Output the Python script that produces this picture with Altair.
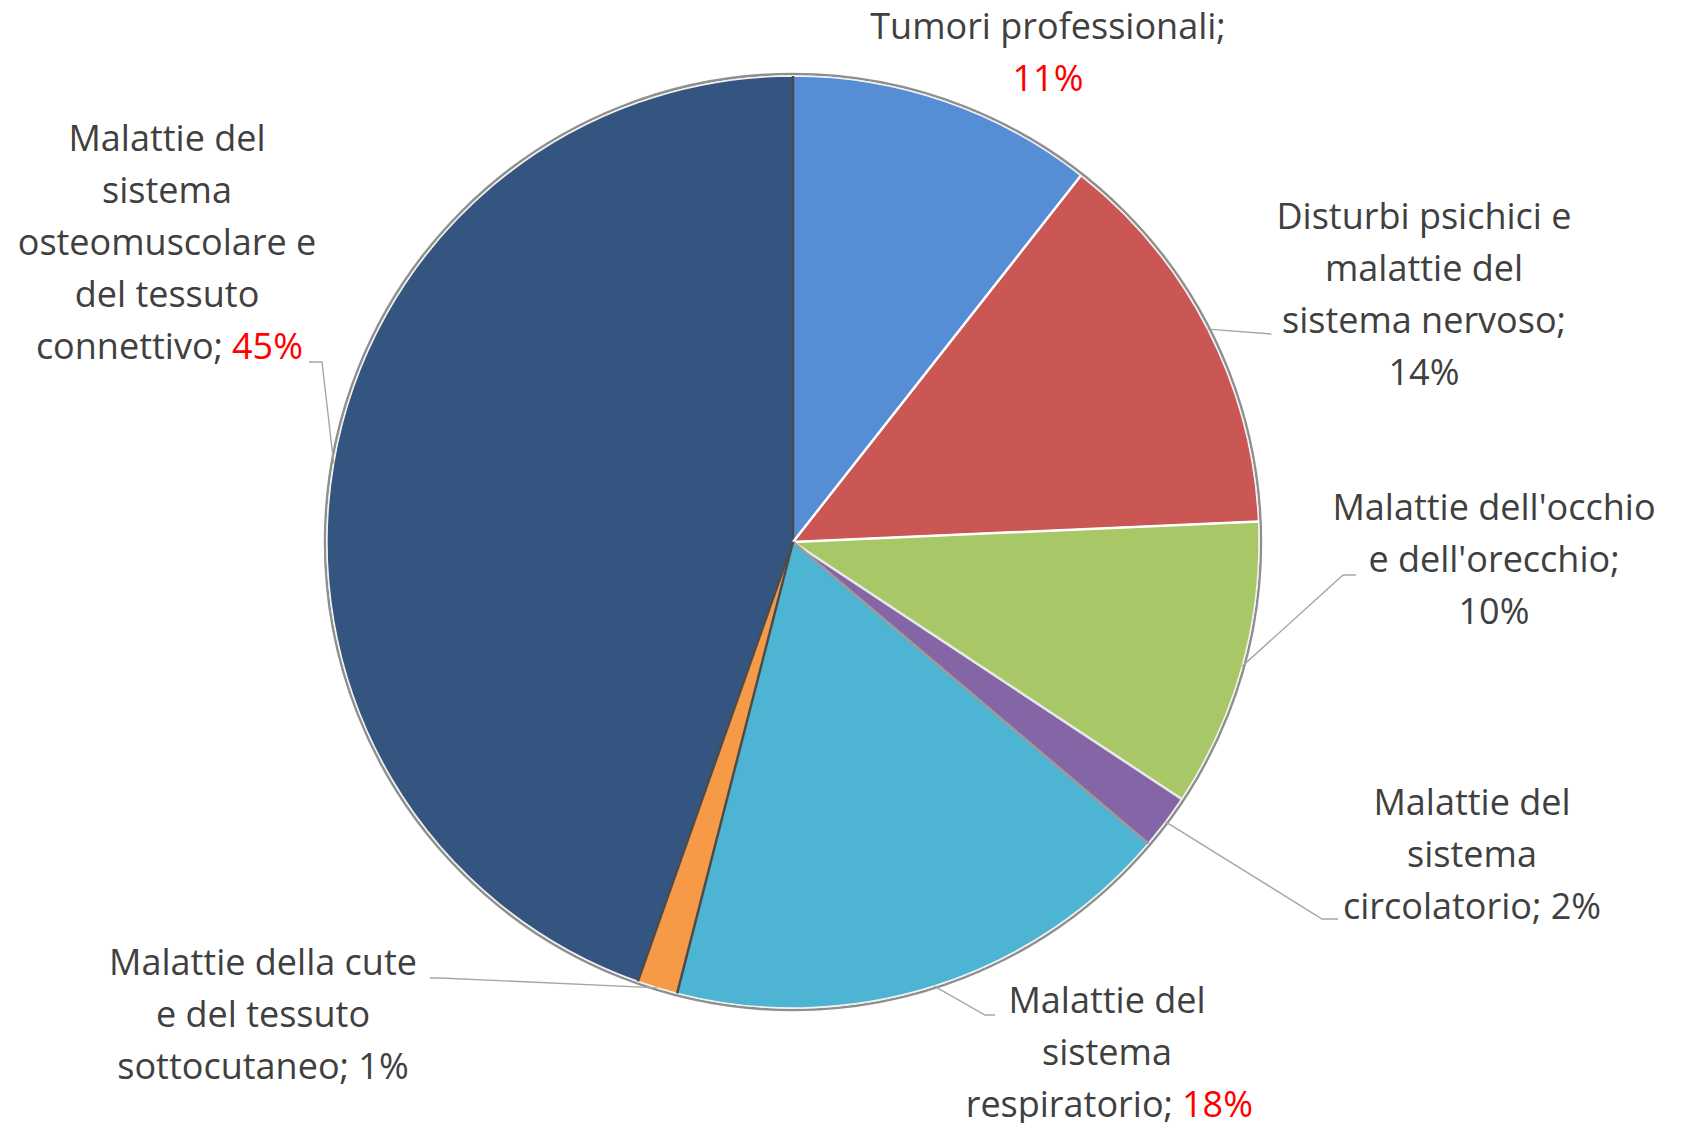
import math
import altair as alt
import pandas as pd

# ---------------- data ----------------
categories = [
    "Tumori professionali",
    "Disturbi psichici e malattie del sistema nervoso",
    "Malattie dell'occhio e dell'orecchio",
    "Malattie del sistema circolatorio",
    "Malattie del sistema respiratorio",
    "Malattie della cute e del tessuto sottocutaneo",
    "Malattie del sistema osteomuscolare e del tessuto connettivo",
]
values = [10.6, 13.7, 10.0, 1.9, 17.8, 1.4, 44.6]
slice_colors = ["#558ED5", "#CB5755", "#A8C766", "#8466A6", "#4DB4D3", "#F69A48", "#33557F"]
label_lines = [
    ["Tumori professionali;", "{p}"],
    ["Disturbi psichici e", "malattie del", "sistema nervoso;", "{p}"],
    ["Malattie dell'occhio", "e dell'orecchio;", "{p}"],
    ["Malattie del", "sistema", "circolatorio; {p}"],
    ["Malattie del", "sistema", "respiratorio; {p}"],
    ["Malattie della cute", "e del tessuto", "sottocutaneo; {p}"],
    ["Malattie del", "sistema", "osteomuscolare e", "del tessuto", "connettivo; {p}"],
]
highlight = [True, False, False, False, True, False, True]

# ---------------- layout (pixels) ----------------
W, H = 1669, 1115
CX, CY, R = 785, 534, 466
LINE_H = 52
FONT = "Open Sans"
FSIZE = 36
TEXT_COL = "#404040"
RED = "#FF0000"
label_x = [1040, 1416, 1486, 1464, 1099, 255, 159]
label_y0 = [20, 210, 501, 796, 994, 956, 132]
split_x = {4: 1174, 6: 224}
# colour of the slice edge that starts each slice (clockwise from the top)
edge_colors = ["#4a4a4a", "white", "white", "#e8e8e8", "#9a9a9a", "#4a4a4a", "#4a4a4a"]
leader_pts = [
    [],
    [(1264, 326)],
    [(1335, 567), (1348, 567)],
    [(1314, 911), (1330, 911)],
    [(977, 1007), (987, 1007)],
    [(432, 970), (422, 970)],
    [(314, 354), (301, 354)],
]

# ---------------- tables ----------------
pie = pd.DataFrame({"cat": categories, "value": values, "idx": list(range(len(values)))})
total = sum(values)

text_rows = []
for i, lines in enumerate(label_lines):
    pct = f"{int(values[i] + 0.5)}%"
    for j, line in enumerate(lines):
        y = label_y0[i] + j * LINE_H
        if line == "{p}":
            text_rows.append(dict(t=pct, x=label_x[i], y=y, a="center",
                                  c=RED if highlight[i] else TEXT_COL))
        elif "{p}" in line and highlight[i]:
            pre = line.replace(" {p}", "")
            text_rows.append(dict(t=pre, x=split_x[i] - 9, y=y, a="right", c=TEXT_COL))
            text_rows.append(dict(t=pct, x=split_x[i], y=y, a="left", c=RED))
        else:
            text_rows.append(dict(t=line.replace("{p}", pct), x=label_x[i], y=y,
                                  a="center", c=TEXT_COL))
texts = pd.DataFrame(text_rows)

lead_rows = []
edge_rows = []
cum = 0.0
for i, v in enumerate(values):
    start = cum / total * 2 * math.pi
    edge_rows.append(dict(e=i, o=0, x=CX, y=CY, c=edge_colors[i]))
    edge_rows.append(dict(e=i, o=1, x=CX + R * math.sin(start), y=CY - R * math.cos(start), c=edge_colors[i]))
    mid = (cum + v / 2) / total * 2 * math.pi
    cum += v
    if not leader_pts[i]:
        continue
    lead_rows.append(dict(cat=categories[i], o=0, x=CX + R * math.sin(mid), y=CY - R * math.cos(mid)))
    for k, (px, py) in enumerate(leader_pts[i]):
        lead_rows.append(dict(cat=categories[i], o=k + 1, x=px, y=py))
leads = pd.DataFrame(lead_rows)
edges = pd.DataFrame(edge_rows)

# ---------------- chart ----------------
xs = alt.Scale(domain=[0, W], nice=False, zero=False)
ys = alt.Scale(domain=[0, H], nice=False, zero=False, reverse=True)
cx_enc = alt.XDatum(CX, type="quantitative", scale=xs, axis=None)
cy_enc = alt.YDatum(CY, type="quantitative", scale=ys, axis=None)

rim = alt.Chart(pd.DataFrame({"k": [0]})).mark_arc(
    radius=R + 2, theta=0, theta2=2 * math.pi, fillOpacity=0, stroke="#8f8f8f", strokeWidth=2.5
).encode(x=cx_enc, y=cy_enc)

arcs = alt.Chart(pie).mark_arc(radius=R, stroke="#f2f2f2", strokeWidth=1.5).encode(
    theta=alt.Theta("value:Q", stack=True),
    order=alt.Order("idx:Q"),
    color=alt.Color("cat:N", scale=alt.Scale(domain=categories, range=slice_colors), legend=None),
    x=cx_enc,
    y=cy_enc,
)

edge_lines = alt.Chart(edges).mark_line(strokeWidth=2.5).encode(
    x=alt.X("x:Q", scale=xs, axis=None),
    y=alt.Y("y:Q", scale=ys, axis=None),
    detail="e:N",
    order="o:Q",
    color=alt.Color("c:N", scale=None),
)

lines = alt.Chart(leads).mark_line(color="#A6A6A6", strokeWidth=1.4).encode(
    x=alt.X("x:Q", scale=xs, axis=None),
    y=alt.Y("y:Q", scale=ys, axis=None),
    detail="cat:N",
    order="o:Q",
)

def text_layer(al):
    return alt.Chart(texts).transform_filter(alt.datum.a == al).mark_text(
        align=al, baseline="middle", font=FONT, fontSize=FSIZE
    ).encode(
        x=alt.X("x:Q", scale=xs, axis=None),
        y=alt.Y("y:Q", scale=ys, axis=None),
        text="t:N",
        color=alt.Color("c:N", scale=None),
    )

chart = alt.layer(
    rim, arcs, edge_lines, lines, text_layer("center"), text_layer("right"), text_layer("left")
).properties(
    width=W, height=H, padding=0, autosize=alt.AutoSizeParams(type="none"), background="white"
).configure_view(stroke=None)

chart.save("out.html", embed_options={"renderer": "svg", "actions": False})
